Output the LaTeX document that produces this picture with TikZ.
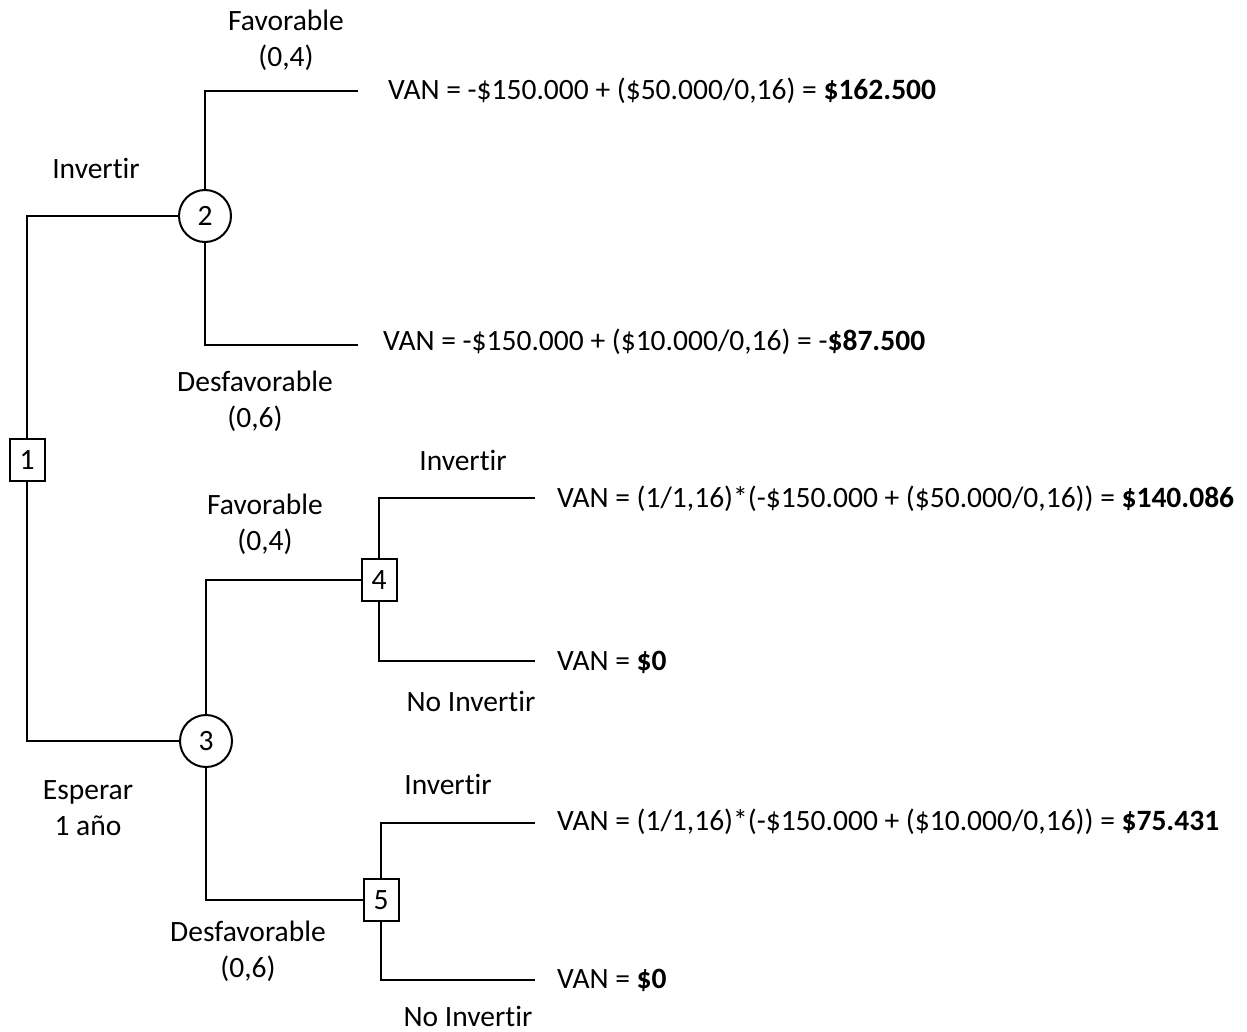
\documentclass[tikz,border=0pt]{standalone}
\usepackage{fontspec}
\setmainfont{Carlito}[Ligatures=NoCommon]
\begin{document}
\begin{tikzpicture}[x=1pt,y=-1pt,
  every node/.style={font=\fontsize{29.5}{36}\selectfont, inner sep=0pt},
  branch/.style={line width=2.3pt},
  chance/.style={draw, circle, line width=2pt, minimum size=52pt},
  decision/.style={draw, rectangle, line width=2pt, minimum width=35pt, minimum height=42pt},
  lbl/.style={align=center},
  payoff/.style={anchor=west}]
\useasboundingbox (0,0) rectangle (1247,1031);

% decision and chance nodes
\node[decision] (n1) at (27,460) {1};
\node[chance]   (n2) at (205,216) {2};
\node[chance]   (n3) at (206,741) {3};
\node[decision] (n4) at (379,580) {4};
\node[decision] (n5) at (381,900) {5};

% branch ends
\coordinate (e1) at (358,91);
\coordinate (e2) at (358,345);
\coordinate (e3) at (535,498);
\coordinate (e4) at (535,661);
\coordinate (e5) at (535,823);
\coordinate (e6) at (535,980);

% branches
\draw[branch] (n1.north) |- (n2.west);
\draw[branch] (n1.south) |- (n3.west);
\draw[branch] (n2.north) |- (e1);
\draw[branch] (n2.south) |- (e2);
\draw[branch] (n3.north) |- (n4.west);
\draw[branch] (n3.south) |- (n5.west);
\draw[branch] (n4.north) |- (e3);
\draw[branch] (n4.south) |- (e4);
\draw[branch] (n5.north) |- (e5);
\draw[branch] (n5.south) |- (e6);

% branch labels
\node[lbl] (l1) at (96,168) {Invertir};
\node[lbl] (l2) at (286,40) {Favorable\\(0,4)};
\node[lbl] (l3) at (255,401) {Desfavorable\\(0,6)};
\node[lbl] (l4) at (88,808) {Esperar\\1 año};
\node[lbl] (l5) at (265,524) {Favorable\\(0,4)};
\node[lbl] (l6) at (248,951) {Desfavorable\\(0,6)};
\node[lbl] (l7) at (463,460) {Invertir};
\node[lbl] (l8) at (471,701) {No Invertir};
\node[lbl] (l9) at (448,784) {Invertir};
\node[lbl] (l10) at (468,1016) {No Invertir};

% payoffs
\node[payoff] (p1) at (388,91) {VAN = -\$150.000 + (\$50.000/0,16) = \textbf{\$162.500}};
\node[payoff] (p2) at (383,342) {VAN = -\$150.000 + (\$10.000/0,16) = -\textbf{\$87.500}};
\node[payoff] (p3) at (557,499) {VAN = (1/1,16)*(-\$150.000 + (\$50.000/0,16)) = \textbf{\$140.086}};
\node[payoff] (p4) at (557,662) {VAN = \textbf{\$0}};
\node[payoff] (p5) at (557,822) {VAN = (1/1,16)*(-\$150.000 + (\$10.000/0,16)) = \textbf{\$75.431}};
\node[payoff] (p6) at (557,980) {VAN = \textbf{\$0}};
\end{tikzpicture}
\end{document}
